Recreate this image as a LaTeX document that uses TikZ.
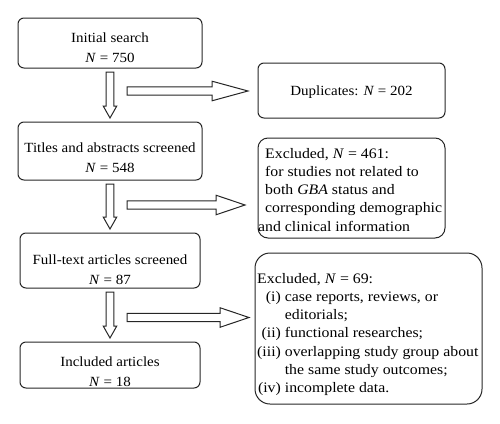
\documentclass[tikz,border=0pt]{standalone}
\usepackage{fontspec}
\setmainfont{Liberation Serif}
\newfontfamily\widefont[FakeStretch=1.07]{Liberation Serif}
\newfontfamily\widerfont[FakeStretch=1.09]{Liberation Serif}
\usetikzlibrary{calc}
\begin{document}
\begin{tikzpicture}[x=1pt,y=-1pt,
  frame/.style={draw=black!85, line width=1pt, rounded corners=#1, inner sep=0pt},
  frame/.default=6pt,
  txt/.style={inner sep=0pt, font=\widefont\fontsize{14}{20}\selectfont},
  rtxt/.style={inner sep=0pt, font=\widerfont\fontsize{14.5}{18.3}\selectfont},
  barrow/.style={draw=black!85, line width=1pt, fill=white}]
\useasboundingbox (0,0) rectangle (500,423);
% left boxes
\node[frame, minimum width=184pt, minimum height=50pt] (b1) at (110,43) {};
\node[frame, minimum width=184pt, minimum height=58pt] (b2) at (110,151) {};
\node[frame, minimum width=180pt, minimum height=55pt] (b3) at (110,260.5) {};
\node[frame, minimum width=180pt, minimum height=46pt] (b4) at (110,365) {};
% right boxes
\node[frame, minimum width=187pt, minimum height=55pt] (d1) at (351.5,90.5) {};
\node[frame=10pt, minimum width=187pt, minimum height=100pt] (e1) at (351.5,188) {};
\node[frame=15pt, minimum width=227pt, minimum height=151pt] (e2) at (368.5,328.5) {};
% texts
\node[txt, anchor=base] (t1) at (110,42) {\begin{tabular}[t]{@{}c@{}}Initial search\\ \textit{N} = 750\end{tabular}};
\node[txt, anchor=base] (t2) at (110,152) {\begin{tabular}[t]{@{}c@{}}Titles and abstracts screened\\ \textit{N} = 548\end{tabular}};
\node[txt, anchor=base] (t3) at (110,264) {\begin{tabular}[t]{@{}c@{}}Full-text articles screened\\ \textit{N} = 87\end{tabular}};
\node[txt, anchor=base] (t4) at (110,366) {\begin{tabular}[t]{@{}c@{}}Included articles\\ \textit{N} = 18\end{tabular}};
\node[txt, anchor=base] (td) at (351.5,95) {Duplicates: \textit{N} = 202};
\node[rtxt, anchor=base west] (te1) at (265,158) {\begin{tabular}[t]{@{}l@{}}Excluded, \textit{N} = 461:\\ for studies not related to\\ both \textit{GBA} status and\\ corresponding demographic\\ \hspace*{-7pt}and clinical information\end{tabular}};
\node[rtxt, anchor=base west] (te2) at (257,283) {\begin{tabular}[t]{@{}r@{\ }l@{}}\multicolumn{2}{@{}l@{}}{Excluded, \textit{N} = 69:}\\
(i) & case reports, reviews, or\\
 & editorials;\\
(ii) & functional researches;\\
(iii) & overlapping study group about\\
 & the same study outcomes;\\
(iv) & incomplete data.\end{tabular}};
% down arrows
\foreach \a/\b in {b1/b2, b2/b3, b3/b4}{
  \draw[barrow] let \p1=($(\a.south)+(0,3.5)$), \p2=($(\b.north)+(0,-3.5)$) in
    (\x1-3.8pt,\y1) -- (\x1+3.8pt,\y1) -- (\x1+3.8pt,\y2+12pt) -- (\x1+6.8pt,\y2+12pt)
    -- (\x1,\y2) -- (\x1-6.8pt,\y2+12pt) -- (\x1-3.8pt,\y2+12pt) -- cycle;
}
% right arrows
\coordinate (r1s) at (127,91);   \coordinate (r1e) at (248,91);
\coordinate (r2s) at (127,205);  \coordinate (r2e) at (245,205);
\coordinate (r3s) at (127,317.5);\coordinate (r3e) at (249,317.5);
\foreach \s/\e/\h in {r1s/r1e/36, r2s/r2e/29, r3s/r3e/29}{
  \draw[barrow] let \p1=(\s), \p2=(\e) in
    (\x1,\y1+4.2pt) -- (\x2-\h pt,\y1+4.2pt) -- (\x2-\h pt,\y1+9.8pt) -- (\x2,\y1)
    -- (\x2-\h pt,\y1-9.8pt) -- (\x2-\h pt,\y1-4.2pt) -- (\x1,\y1-4.2pt) -- cycle;
}
\end{tikzpicture}
\end{document}
